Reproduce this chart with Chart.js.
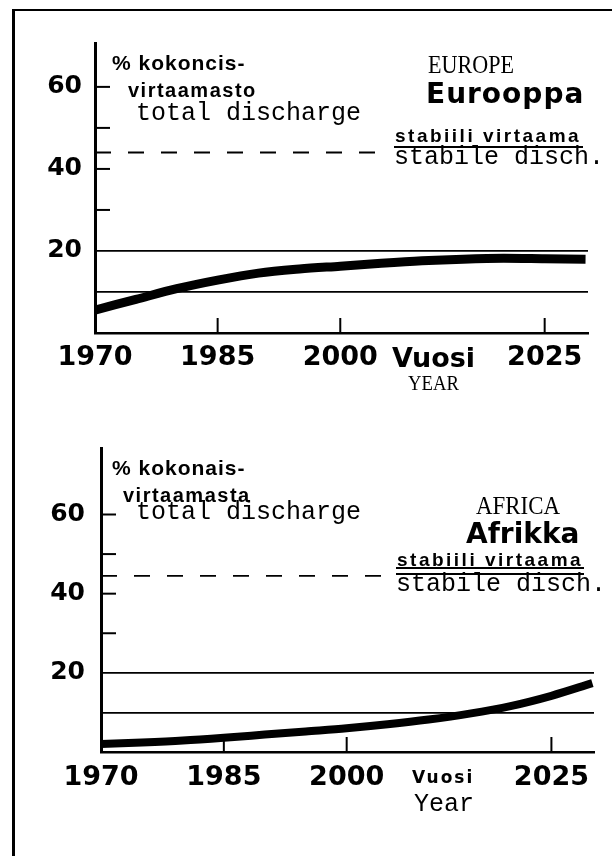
<!DOCTYPE html>
<html><head><meta charset="utf-8">
<script src="https://cdn.jsdelivr.net/npm/chart.js@4.4.1/dist/chart.umd.min.js"></script>
<style>
html,body{margin:0;padding:0;background:#fff;}
body{width:612px;height:856px;position:relative;overflow:hidden;}
canvas{position:absolute;left:0;}
.t{position:absolute;white-space:nowrap;line-height:1;color:#000;}
.fi{font-family:"Liberation Sans",Arial,sans-serif;font-weight:bold;}
.mono{font-family:"Liberation Mono","Courier New",monospace;}
.serif{font-family:"Liberation Serif","Times New Roman",serif;transform-origin:0 0;}
.big{font-family:"DejaVu Sans",sans-serif;font-weight:bold;}
.rule{position:absolute;background:#000;}
</style></head><body>
<div class="rule" style="left:12px;top:9px;width:3px;height:847px"></div>
<div class="rule" style="left:12px;top:9px;width:600px;height:2px"></div>
<canvas id="c1" width="612" height="420" style="top:0"></canvas>
<canvas id="c2" width="612" height="436" style="top:420px"></canvas>

<div class="t fi" style="left:112px;top:52px;font-size:21px;letter-spacing:1px">% kokoncis-</div>
<div class="t fi" style="left:128px;top:80px;font-size:20px;letter-spacing:1.5px">virtaamasto</div>
<div class="t mono" style="left:136px;top:101px;font-size:25px">total discharge</div>
<div class="t serif" style="left:428px;top:52px;font-size:26px;transform:scaleX(0.85)">EUROPE</div>
<div class="t big" style="left:426px;top:80px;font-size:28px;letter-spacing:1px">Eurooppa</div>
<div class="t fi" style="left:395px;top:126px;font-size:19px;letter-spacing:2.5px">stabiili virtaama</div>
<div class="rule" style="left:394px;top:146px;width:189px;height:2px"></div>
<div class="t mono" style="left:394px;top:145px;font-size:25px">stabile disch.</div>
<div class="t big" style="left:392px;top:344px;font-size:27px">Vuosi</div>
<div class="t serif" style="left:408px;top:372px;font-size:22px;transform:scaleX(0.85)">YEAR</div>

<div class="t fi" style="left:112px;top:457px;font-size:21px;letter-spacing:1px">% kokonais-</div>
<div class="t fi" style="left:123px;top:485px;font-size:20px;letter-spacing:1.5px">virtaamasta</div>
<div class="t mono" style="left:136px;top:500px;font-size:25px">total discharge</div>
<div class="t serif" style="left:476px;top:493px;font-size:26px;transform:scaleX(0.88)">AFRICA</div>
<div class="t big" style="left:466px;top:520px;font-size:28px">Afrikka</div>
<div class="t fi" style="left:397px;top:550px;font-size:19px;letter-spacing:2.5px">stabiili virtaama</div>
<div class="rule" style="left:396px;top:567px;width:188px;height:1.5px"></div>
<div class="rule" style="left:396px;top:573px;width:188px;height:2px"></div>
<div class="t mono" style="left:396px;top:572px;font-size:25px">stabile disch.</div>
<div class="t big" style="left:412px;top:769px;font-size:17px;letter-spacing:2px">Vuosi</div>
<div class="t mono" style="left:414px;top:792px;font-size:25px">Year</div>

<script>
// ---- data ----
const years = [1970, 1975, 1980, 1985, 1990, 1995, 2000, 2005, 2010, 2015, 2020, 2025, 2030];
const europeShare = [5.6, 8.2, 10.8, 12.9, 14.6, 15.6, 16.3, 17.0, 17.6, 18.0, 18.2, 18.1, 18.0];
const africaShare = [2.0, 2.4, 2.9, 3.6, 4.4, 5.2, 6.0, 7.0, 8.2, 9.7, 11.6, 14.2, 17.4];
const stableLevelEurope = 44;
const stableLevelAfrica = 44.5;
const stableSpan = [1970, 2005.3];
const yearTicks = [1970, 1985, 2000, 2025];
const yTicks = [10, 20, 30, 40, 50, 60];
const yLabelled = [20, 40, 60];
const gridValues = [10, 20];
const innerYMarks = [30, 40, 50, 60];
const innerXMarks = [1985, 2000, 2025];

const innerTicks = {
  id: 'innerTicks',
  beforeDatasetsDraw(chart, args, o) {
    const {ctx, chartArea: a, scales: {x, y}} = chart;
    ctx.save();
    ctx.strokeStyle = '#000'; ctx.lineWidth = 2; ctx.lineCap = 'butt';
    innerYMarks.forEach(v => {
      const py = y.getPixelForValue(v);
      ctx.beginPath(); ctx.moveTo(a.left, py); ctx.lineTo(a.left + o.len, py); ctx.stroke();
    });
    innerXMarks.forEach(v => {
      const px = x.getPixelForValue(v);
      ctx.beginPath(); ctx.moveTo(px, a.bottom); ctx.lineTo(px, a.bottom - o.len); ctx.stroke();
    });
    ctx.restore();
  }
};

function makeChart(id, series, stable, g) {
  return new Chart(document.getElementById(id), {
    type: 'line',
    data: {
      datasets: [
        { data: years.map((yr, i) => ({x: yr, y: series[i]})), borderColor: '#000', borderWidth: g.lineW,
          pointRadius: 0, cubicInterpolationMode: 'monotone', borderCapStyle: 'butt', fill: false },
        { data: stableSpan.map(v => ({x: v, y: stable})), borderColor: '#000', borderWidth: 1.8,
          borderDash: [16, 17], pointRadius: 0, fill: false }
      ]
    },
    options: {
      responsive: false, animation: false, devicePixelRatio: 1,
      layout: { padding: { left: g.padL, right: g.padR, top: g.padT, bottom: g.padB } },
      plugins: { legend: { display: false }, tooltip: { enabled: false }, innerTicks: { len: 15 } },
      scales: {
        x: {
          type: 'linear', min: 1970, max: g.xMax,
          afterBuildTicks: s => { s.ticks = yearTicks.map(v => ({value: v})); },
          afterFit: s => { s.height = 60; s.paddingLeft = 0; s.paddingRight = 0; },
          grid: { color: 'rgba(0,0,0,0)', drawTicks: false },
          border: { display: true, color: '#000', width: 2.5 },
          ticks: { color: '#000', font: { family: 'DejaVu Sans', weight: 'bold', size: 27 },
                   padding: g.xPad, maxRotation: 0, autoSkip: false, callback: v => String(v) }
        },
        y: {
          min: 0, max: g.yMax,
          afterBuildTicks: s => { s.ticks = yTicks.map(v => ({value: v})); },
          afterFit: s => { s.width = 60; s.paddingTop = 0; s.paddingBottom = 0; },
          grid: { drawTicks: false, lineWidth: 1.8,
                  color: c => (c.tick && gridValues.includes(c.tick.value)) ? '#000' : 'rgba(0,0,0,0)' },
          border: { display: true, color: '#000', width: 3 },
          ticks: { color: '#000', font: { family: 'DejaVu Sans', weight: 'bold', size: 25 },
                   padding: g.yPad, autoSkip: false, callback: v => yLabelled.includes(v) ? String(v) : '' }
        }
      }
    },
    plugins: [innerTicks]
  });
}

makeChart('c1', europeShare, stableLevelEurope,
  { padL: 35, padR: 24, padT: 43, padB: 27, yMax: 70.7, xMax: 2030.3, xPad: 9, yPad: 13, lineW: 9 });
makeChart('c2', africaShare, stableLevelAfrica,
  { padL: 41, padR: 18, padT: 28, padB: 44, yMax: 76.8, xMax: 2030.2, xPad: 10, yPad: 16, lineW: 8 });
</script>
</body></html>
